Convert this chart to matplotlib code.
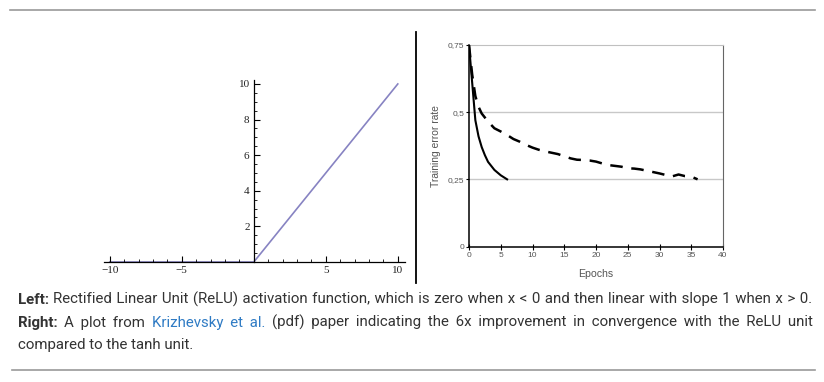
import matplotlib
matplotlib.use("Agg")
import matplotlib.pyplot as plt
from matplotlib.lines import Line2D
from matplotlib.ticker import MultipleLocator
from matplotlib import font_manager

# left panel: ReLU
relu_x = [-10, 0, 10]
relu_y = [0, 0, 10]
left_xticks = [-10, -5, 5, 10]
left_yticks = [2, 4, 6, 8, 10]

# right panel: training error vs epochs (Krizhevsky et al.)
relu_epochs = [0, 0.5, 1, 1.5, 2, 2.5, 3, 4, 5, 6]
relu_err = [0.75, 0.61, 0.47, 0.41, 0.37, 0.34, 0.315, 0.285, 0.265, 0.25]
tanh_epochs = [0, 0.5, 1, 1.5, 2, 3, 4, 5, 6, 7, 8, 9, 10, 11, 12, 13, 14, 15, 16, 17, 18,
               19, 20, 21, 22, 23, 24, 25, 26, 27, 28, 29, 30, 31, 32, 33, 34, 35, 36]
tanh_err = [0.75, 0.64, 0.56, 0.52, 0.495, 0.465, 0.44, 0.428, 0.415, 0.40, 0.39, 0.378,
            0.368, 0.36, 0.354, 0.349, 0.344, 0.336, 0.328, 0.323, 0.322, 0.320, 0.316,
            0.309, 0.303, 0.300, 0.297, 0.291, 0.290, 0.287, 0.282, 0.277, 0.272, 0.266,
            0.261, 0.268, 0.262, 0.260, 0.250]
right_xticks = [0, 5, 10, 15, 20, 25, 30, 35, 40]
right_yticks = [0, 0.25, 0.5, 0.75]
right_ylabels = ["0", "0,25", "0,5", "0,75"]

# caption: (text, bold, link)
caption = [
    [("Left:", True, False),
     ("Rectified Linear Unit (ReLU) activation function, which is zero when x < 0 and then linear with slope 1 when x > 0.", False, False)],
    [("Right:", True, False), ("A plot from", False, False), ("Krizhevsky et al.", False, True),
     ("(pdf) paper indicating the 6x improvement in convergence with the ReLU unit", False, False)],
    [("compared to the tanh unit.", False, False)],
]

W, H = 824, 382
fig = plt.figure(figsize=(W / 100, H / 100), dpi=100)

# ---- left axes
ax1 = fig.add_axes([104 / W, (H - 262) / H, 301 / W, 181.6 / H])
ax1.plot(relu_x, relu_y, color='#8783c2', lw=1.2, zorder=1, clip_on=False)
ax1.set_xlim(-10.4, 10.5)
ax1.set_ylim(0, 10.2)
for s in ['top', 'right']:
    ax1.spines[s].set_visible(False)
ax1.spines['left'].set_position(('data', 0))
for s in ['left', 'bottom']:
    ax1.spines[s].set_linewidth(0.9)
    ax1.spines[s].set_zorder(3)
ax1.set_xticks(left_xticks)
ax1.set_yticks(left_yticks)
ax1.xaxis.set_minor_locator(MultipleLocator(1))
ax1.yaxis.set_minor_locator(MultipleLocator(0.5))
ax1.tick_params(which='major', direction='in', length=4, width=0.8, labelsize=8, pad=3)
ax1.tick_params(which='minor', direction='in', length=2, width=0.6)
for lab in ax1.get_xticklabels() + ax1.get_yticklabels():
    lab.set_family('Liberation Serif')
    lab.set_color('#222222')

# ---- right axes
ax2 = fig.add_axes([469 / W, (H - 246.5) / H, 254 / W, 201.5 / H])
ax2.set_xlim(0, 40)
ax2.set_ylim(0, 0.75)
for yv in [0.25, 0.5]:
    ax2.axhline(yv, color='#c8c8c8', lw=1, zorder=1)
ax2.plot(relu_epochs, relu_err, color='black', lw=1.5, zorder=3)
ax2.plot(tanh_epochs, tanh_err, color='black', lw=1.8, zorder=3, dashes=(5, 3.5))
ax2.spines['top'].set_color('#c0c0c0')
ax2.spines['right'].set_color('#666666')
ax2.spines['left'].set_linewidth(1.1)
ax2.spines['bottom'].set_linewidth(1.1)
ax2.set_xticks(right_xticks)
ax2.set_yticks(right_yticks)
ax2.set_yticklabels(right_ylabels)
ax2.tick_params(axis='x', direction='inout', length=4, width=0.8, labelsize=6,
                labelcolor='#555555', pad=2)
ax2.tick_params(axis='y', direction='out', length=2.5, width=0.8, labelsize=6,
                labelcolor='#555555', pad=1)
for lab in ax2.get_xticklabels() + ax2.get_yticklabels():
    lab.set_family('Liberation Sans')
ax2.set_ylabel("Training error rate", fontsize=7.4, color='#555555',
               family='Liberation Sans', labelpad=5)
ax2.set_xlabel("Epochs", fontsize=7.6, color='#555555', family='Liberation Sans',
               labelpad=7)

# ---- decorations
fig.add_artist(Line2D([10 / W, 815 / W], [1 - 10 / H] * 2, color='#9a9a9a', lw=1.2))
fig.add_artist(Line2D([12 / W, 815 / W], [1 - 370 / H] * 2, color='#9a9a9a', lw=1.2))
fig.add_artist(Line2D([416 / W, 416 / W], [1 - 32 / H, 1 - 283 / H], color='black', lw=1.3))

# ---- caption, justified like the page text (narrow font if available)
installed = {f.name for f in font_manager.fontManager.ttflist}
cap_family = 'Liberation Sans Narrow' if 'Liberation Sans Narrow' in installed else 'Roboto'
font = dict(family=[cap_family, 'DejaVu Sans'],
            fontsize=10.8 if cap_family == 'Roboto' else 11.3)
renderer = fig.canvas.get_renderer()


def width(s, bold=False):
    t = fig.text(0, 0, s, fontweight='bold' if bold else 'normal', **font)
    w = t.get_window_extent(renderer).width
    t.remove()
    return w


sp = width("x x") - width("xx")
thin = width("x\u2009x") - width("xx")
hair = width("x\u200ax") - width("xx")


def spacer(g):
    # combination of space / thin / hair spaces closest to g pixels
    best = (1e9, " ")
    for a in range(3):
        for b in range(3):
            for c in range(9):
                err = abs(a * sp + b * thin + c * hair - g)
                if a + b + c and err < best[0]:
                    best = (err, " " * a + "\u2009" * b + "\u200a" * c)
    return best[1]


left, right = 18, 812
baselines = [304, 327, 349]
for li, line in enumerate(caption):
    words = []
    for si, (txt, bold, link) in enumerate(line):
        for wd in txt.split(" "):
            words.append((wd, bold, link, si))
    widths = [width(w, b) for w, b, _, _ in words]
    if li < len(caption) - 1:
        gap = (right - left - sum(widths)) / (len(words) - 1)
    else:
        gap = sp
    x = left
    for si, (txt, bold, link) in enumerate(line):
        seg_words = [w for w in words if w[3] == si]
        seg = spacer(gap).join(w[0] for w in seg_words)
        t = fig.text(x / W, 1 - baselines[li] / H, seg, va='baseline', ha='left',
                     fontweight='bold' if bold else 'normal',
                     color='#2f7bc4' if link else '#333333', **font)
        x += t.get_window_extent(renderer).width + gap

fig.savefig("out.png", dpi=100)
